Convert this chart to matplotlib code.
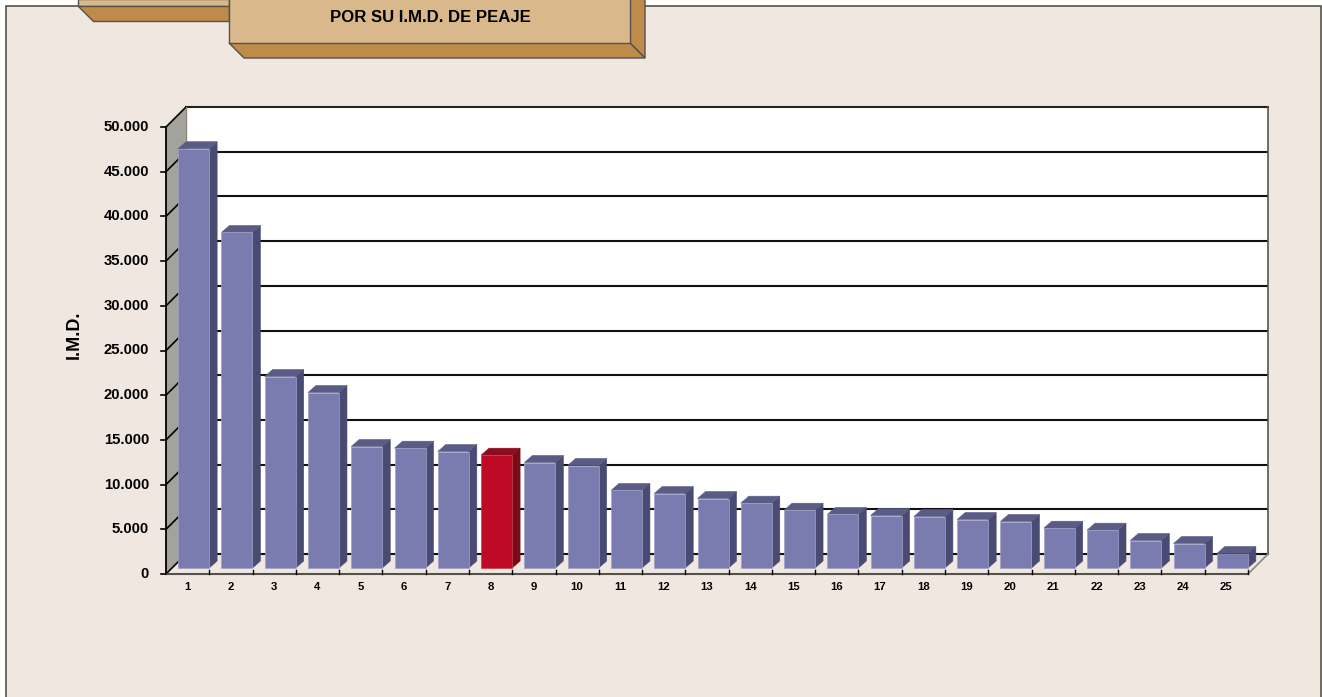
# coding: utf-8

import matplotlib
matplotlib.use('Agg')
import matplotlib.pyplot as plt
from matplotlib import font_manager
from matplotlib.patches import Polygon, Rectangle

plt.rcParams['font.family'] = ['Liberation Sans', 'DejaVu Sans']

categorias = list(range(1, 26))
imd = [46900, 37530, 21420, 19630, 13590, 13400, 13030, 12620, 11800, 11465,
       8670, 8330, 7770, 7250, 6465, 5985, 5870, 5760, 5425, 5200,
       4450, 4230, 3075, 2740, 1620]
resaltado = 8
y_ticks = [0, 5000, 10000, 15000, 20000, 25000, 30000, 35000, 40000, 45000, 50000]
y_labels = ['0', '5.000', '10.000', '15.000', '20.000', '25.000', '30.000',
            '35.000', '40.000', '45.000', '50.000']
titulo = 'POR SU I.M.D. DE PEAJE'

W, H = 1322, 697
FONDO = '#F1E7E1'
TAN = '#D9B88B'
MARRON = '#BF8B4A'
BORDE = '#55524C'

# el titulo va en letra estrecha si esta instalada
nombres = {f.name for f in font_manager.fontManager.ttflist}
if 'Liberation Sans Narrow' in nombres:
    fuente_titulo, size_titulo = 'Liberation Sans Narrow', 14.6
else:
    fuente_titulo, size_titulo = 'Liberation Sans', 12.1

fig = plt.figure(figsize=(W / 100, H / 100), dpi=100, facecolor='white')

# panel de fondo y cabecera, en pixeles
bg = fig.add_axes([0, 0, 1, 1], zorder=0)
bg.set_xlim(0, W)
bg.set_ylim(H, 0)
bg.axis('off')
bg.add_patch(Rectangle((5.5, 6), 1315.5, 700, fc=FONDO, ec=BORDE, lw=1.2))
# pestana de atras
bg.add_patch(Polygon([(78, -1), (229, -1), (229, 5.5), (78, 5.5)], fc=TAN, ec=BORDE, lw=1))
bg.add_patch(Polygon([(78, 5.5), (229, 5.5), (229, 20.5), (93, 20.5)], fc=MARRON, ec=BORDE, lw=1))
# pestana de delante
bg.add_patch(Polygon([(630, -1), (645, -1), (645, 58), (630, 43)], fc=MARRON, ec=BORDE, lw=1))
bg.add_patch(Polygon([(229, 43), (630, 43), (645, 58), (244, 58)], fc=MARRON, ec=BORDE, lw=1))
bg.add_patch(Rectangle((229, -2), 401, 45, fc=TAN, ec=BORDE, lw=1))
bg.text(430, 17, titulo, fontsize=size_titulo, fontweight='bold', family=fuente_titulo,
        ha='center', va='center', color='black')

# ejes en el plano frontal del grafico
izq, der, arriba, abajo = 166, 1248, 127, 574
ax = fig.add_axes([izq / W, 1 - abajo / H, (der - izq) / W, (abajo - arriba) / H], zorder=1)
ax.set_xlim(0.5, 25.5)
ax.set_ylim(0, 50000)
ax.patch.set_alpha(0)
ax.axis('off')

px_x = 25 / (der - izq)
px_y = 50000 / (abajo - arriba)
fx, fy = 20 * px_x, 20 * px_y   # profundidad total
ox, oy = 6 * px_x, 6 * px_y     # plano frontal de las barras
dx, dy = 8 * px_x, 7 * px_y     # profundidad de las barras
ancho = 31 * px_x
x0, x1 = 0.5, 25.5

# pared trasera, lateral y suelo
ax.add_patch(Rectangle((x0 + fx, fy), x1 - x0, 50000, fc='white', ec='none', clip_on=False, zorder=1))
ax.add_patch(Polygon([(x0, 0), (x0 + fx, fy), (x0 + fx, 50000 + fy), (x0, 50000)],
                     fc='#A3A39B', ec='none', clip_on=False, zorder=1))

for t in y_ticks[1:-1]:
    ax.plot([x0 + fx, x1 + fx], [t + fy, t + fy], color='#111111', lw=1.5, clip_on=False, zorder=2, solid_capstyle='butt')
    ax.plot([x0, x0 + fx], [t, t + fy], color='black', lw=1.2, clip_on=False, zorder=2)
ax.plot([x0 + fx, x1 + fx], [50000 + fy, 50000 + fy], color='#222222', lw=1.5, clip_on=False, zorder=2)
ax.plot([x0, x0 + fx], [50000, 50000 + fy], color='black', lw=1.2, clip_on=False, zorder=2)
ax.plot([x0 + fx, x0 + fx], [fy, 50000 + fy], color='#88887F', lw=1, clip_on=False, zorder=2)
ax.plot([x0 + fx, x1 + fx], [fy, fy], color='#111111', lw=1.5, clip_on=False, zorder=2)
ax.plot([x0, x0 + fx], [0, fy], color='black', lw=1.2, clip_on=False, zorder=2)
ax.plot([x1 + fx, x1 + fx], [fy, 50000 + fy], color='#555550', lw=1.2, clip_on=False, zorder=2)
ax.plot([x1, x1 + fx], [0, fy], color='#88887F', lw=1.2, clip_on=False, zorder=2)

# eje y y eje x
ax.plot([x0, x0], [0, 50000], color='black', lw=1.3, clip_on=False, zorder=6)
ax.plot([x0, x1], [0, 0], color='#55524C', lw=1.5, clip_on=False, zorder=6)
for t, lab in zip(y_ticks, y_labels):
    ax.plot([x0 - 5 * px_x, x0], [t, t], color='black', lw=1.2, clip_on=False, zorder=6)
    ax.text(x0 - 17 * px_x, t, lab, fontsize=10.7, fontweight='bold', ha='right', va='center', clip_on=False)
for c in categorias:
    ax.plot([c + 0.5, c + 0.5], [0, 4 * px_y], color='black', lw=1, clip_on=False, zorder=6)
    ax.text(c, -12.5 * px_y, str(c), fontsize=8.2, fontweight='bold', ha='center', va='center', clip_on=False)
ax.text(x0 - 92 * px_x, 26800, 'I.M.D.', rotation=90, fontsize=13, fontweight='bold',
        ha='center', va='center', clip_on=False)

# barras
for c, v in zip(categorias, imd):
    if c == resaltado:
        frente, lado, tapa, filo = '#BE0A26', '#760C18', '#8C0E1E', '#C8404F'
    else:
        frente, lado, tapa, filo = '#7A7CB0', '#494B73', '#5A5C85', '#A0A1C8'
    xa = c + ox - ancho / 2
    xb = c + ox + ancho / 2
    ax.add_patch(Polygon([(xb, oy), (xb + dx, oy + dy), (xb + dx, oy + v + dy), (xb, oy + v)],
                         fc=lado, ec=lado, lw=0.4, clip_on=False, zorder=3))
    ax.add_patch(Polygon([(xa, oy + v), (xb, oy + v), (xb + dx, oy + v + dy), (xa + dx, oy + v + dy)],
                         fc=tapa, ec=tapa, lw=0.4, clip_on=False, zorder=3))
    ax.bar(c + ox, v, width=ancho, bottom=oy, color=frente, edgecolor=filo, linewidth=0.5, clip_on=False, zorder=4)

fig.savefig('out.png', dpi=100)
